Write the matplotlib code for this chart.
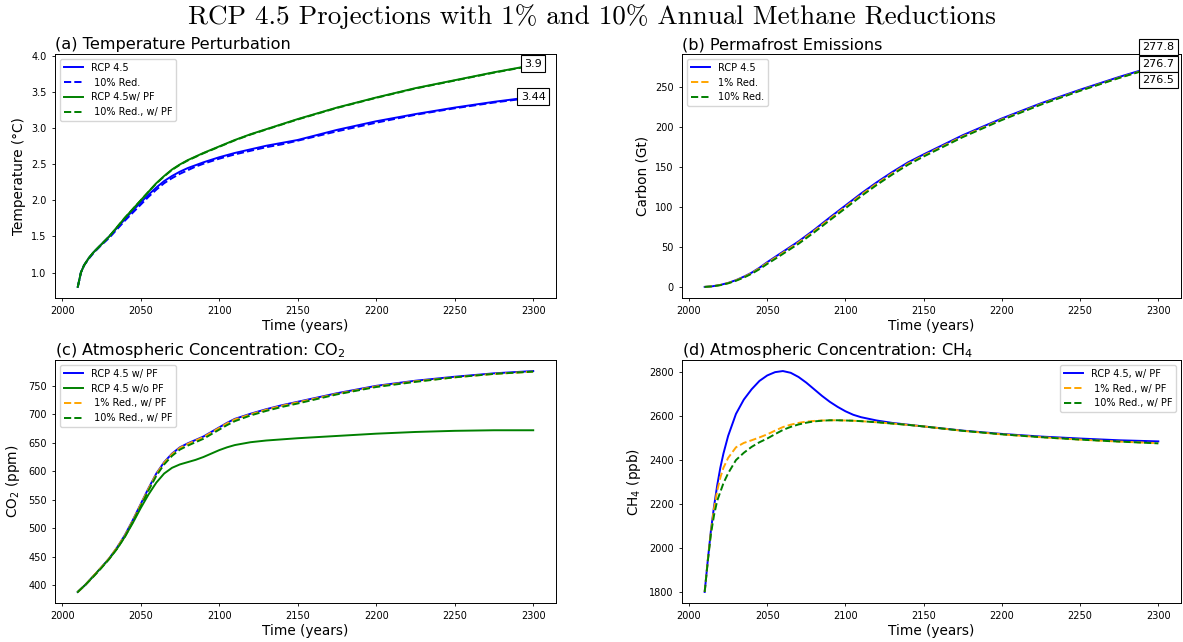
import matplotlib
matplotlib.use("Agg")
import matplotlib.pyplot as plt

# ---------------- data ----------------
# (a) Temperature perturbation
years_a = [2010, 2012, 2014, 2017, 2020, 2025, 2030, 2035, 2040, 2045, 2050, 2055, 2060,
           2065, 2070, 2075, 2080, 2085, 2090, 2100, 2110, 2120, 2130, 2140, 2150, 2175,
           2200, 2225, 2250, 2275, 2300]
temp_rcp = [0.80, 1.00, 1.10, 1.20, 1.28, 1.39, 1.50, 1.62, 1.74, 1.86, 1.97, 2.08, 2.18,
            2.27, 2.34, 2.40, 2.45, 2.49, 2.53, 2.60, 2.66, 2.71, 2.76, 2.80, 2.84, 2.98,
            3.10, 3.20, 3.29, 3.37, 3.44]
temp_rcp_10 = [0.80, 1.00, 1.10, 1.19, 1.27, 1.38, 1.48, 1.60, 1.72, 1.83, 1.94, 2.05, 2.15,
               2.24, 2.31, 2.37, 2.42, 2.47, 2.51, 2.58, 2.64, 2.69, 2.74, 2.78, 2.83, 2.96,
               3.08, 3.19, 3.28, 3.36, 3.43]
temp_pf = [0.80, 1.00, 1.10, 1.20, 1.28, 1.39, 1.50, 1.63, 1.76, 1.88, 2.00, 2.12, 2.24,
           2.34, 2.43, 2.50, 2.56, 2.61, 2.66, 2.75, 2.84, 2.92, 2.99, 3.06, 3.13, 3.29,
           3.43, 3.56, 3.67, 3.78, 3.88]
temp_pf_10 = [0.80, 1.00, 1.10, 1.20, 1.28, 1.39, 1.50, 1.63, 1.76, 1.88, 2.00, 2.12, 2.235,
              2.335, 2.425, 2.495, 2.555, 2.605, 2.655, 2.745, 2.835, 2.915, 2.985, 3.055,
              3.125, 3.285, 3.425, 3.555, 3.665, 3.775, 3.875]
temp_labels = ["3.9", "3.44"]
temp_label_vals = [3.90, 3.44]

# (b) Permafrost emissions
years_b = [2010, 2015, 2020, 2025, 2030, 2035, 2040, 2045, 2050, 2055, 2060, 2065, 2070,
           2080, 2090, 2100, 2110, 2120, 2130, 2140, 2150, 2175, 2200, 2225, 2250, 2275, 2300]
carb_rcp = [0, 0.8, 2.5, 5, 8.5, 12.8, 17.8, 24, 31, 37.5, 44, 50.5, 57, 71.5, 87, 102,
            117, 131, 144, 156, 166, 190, 211, 230, 247, 263, 277.8]
carb_1 = [0, 0.8, 2.4, 4.8, 8.2, 12.3, 17.2, 23.2, 30, 36.3, 42.7, 49.2, 55.6, 70, 85.3, 100.3,
          115.3, 129.3, 142.3, 154.4, 164.5, 188.6, 209.8, 228.9, 246, 262, 276.7]
carb_10 = [0, 0.7, 2.2, 4.5, 7.7, 11.7, 16.4, 22.2, 28.8, 35, 41.3, 47.7, 54, 68.3, 83.5, 98.5,
           113.6, 127.7, 140.8, 153, 163.3, 187.6, 209, 228.3, 245.6, 261.7, 276.5]
carb_labels = ["277.8", "276.7", "276.5"]
carb_label_vals = [277.8, 276.7, 276.5]

# (c) CO2 concentration
years_c = [2010, 2015, 2020, 2025, 2030, 2035, 2040, 2045, 2050, 2055, 2060, 2065, 2070,
           2075, 2080, 2085, 2090, 2095, 2100, 2105, 2110, 2120, 2130, 2140, 2150, 2175,
           2200, 2225, 2250, 2275, 2300]
co2_pf = [388, 401, 416, 431, 447, 466, 488, 514, 542, 570, 596, 616, 631, 642, 649, 655,
          661, 669, 677, 685, 692, 701, 709, 716, 722, 737, 750, 759, 766, 772, 776]
co2_nopf = [388, 401, 416, 431, 446, 464, 485, 509, 535, 559, 580, 596, 606, 612, 616, 620,
            625, 631, 637, 642, 646, 651, 654, 656, 658, 662, 666, 669, 671, 672, 672]
co2_1 = [388, 401, 416, 431, 447, 466, 487, 513, 541, 569, 595, 615, 630, 641, 648, 654,
         660, 668, 676, 684, 691, 700, 708, 715, 721, 736, 749, 758, 765, 771, 775]
co2_10 = [388, 401, 415, 430, 446, 464, 485, 511, 538, 566, 592, 612, 627, 638, 645, 651,
          657, 665, 673, 681, 688, 698, 706, 713, 719, 735, 748, 757, 765, 771, 775]

# (d) CH4 concentration
years_d = [2010, 2012, 2014, 2016, 2018, 2020, 2022, 2025, 2030, 2035, 2040, 2045, 2050,
           2055, 2060, 2065, 2070, 2075, 2080, 2085, 2090, 2095, 2100, 2105, 2110, 2120,
           2130, 2140, 2150, 2175, 2200, 2225, 2250, 2275, 2300]
ch4_pf = [1800, 1945, 2080, 2190, 2285, 2365, 2430, 2510, 2610, 2675, 2722, 2760, 2785,
          2800, 2805, 2797, 2778, 2752, 2722, 2692, 2665, 2642, 2622, 2606, 2595, 2580,
          2569, 2561, 2553, 2534, 2519, 2507, 2498, 2490, 2485]
ch4_1 = [1800, 1945, 2075, 2180, 2260, 2320, 2365, 2410, 2458, 2478, 2490, 2503, 2517,
         2534, 2550, 2561, 2569, 2575, 2578, 2580, 2581, 2581, 2580, 2579, 2577, 2572,
         2566, 2560, 2553, 2533, 2517, 2504, 2493, 2484, 2477]
ch4_10 = [1800, 1940, 2065, 2150, 2215, 2255, 2295, 2340, 2400, 2433, 2460, 2481, 2498,
          2518, 2537, 2551, 2562, 2570, 2576, 2579, 2581, 2581, 2580, 2579, 2577, 2572,
          2566, 2560, 2553, 2533, 2517, 2504, 2493, 2484, 2476]

# ---------------- style ----------------
plt.rcParams.update({
    "font.family": "DejaVu Sans",
    "xtick.labelsize": 7,
    "ytick.labelsize": 7,
    "xtick.major.size": 2.5,
    "ytick.major.size": 2.5,
    "xtick.major.width": 0.6,
    "ytick.major.width": 0.6,
    "axes.linewidth": 0.7,
    "legend.fontsize": 7,
})

BLUE, GREEN, ORANGE = "blue", "green", "orange"
LW = 1.4
TITLE_FS = 11.6
LABEL_FS = 9.8

fig = plt.figure(figsize=(11.83, 6.42), dpi=100)
W, H = 1183, 642


def place(l, t, r, b):
    return fig.add_axes([l / W, 1 - b / H, (r - l) / W, (b - t) / H])


ax_a = place(55, 54, 556, 298)
ax_b = place(682, 54, 1181, 298)
ax_c = place(55, 360, 556, 603)
ax_d = place(682, 360, 1181, 603)

box = dict(boxstyle="square,pad=0.3", fc="white", ec="black", lw=0.8)

# (a)
ax_a.plot(years_a, temp_rcp, color=BLUE, lw=LW, label="RCP 4.5")
ax_a.plot(years_a, temp_rcp_10, color=BLUE, lw=LW, ls="--", label=" 10% Red.")
ax_a.plot(years_a, temp_pf, color=GREEN, lw=LW, label="RCP 4.5w/ PF")
ax_a.plot(years_a, temp_pf_10, color=GREEN, lw=LW, ls="--", label=" 10% Red., w/ PF")
for txt, v in zip(temp_labels, temp_label_vals):
    ax_a.text(years_a[-1], v, txt, ha="center", va="center", fontsize=8, bbox=box)
ax_a.set_title("(a) Temperature Perturbation", loc="left", fontsize=TITLE_FS, pad=3.5)
ax_a.set_ylabel("Temperature (°C)", fontsize=LABEL_FS)
ax_a.legend(loc="upper left")

# (b)
ax_b.plot(years_b, carb_rcp, color=BLUE, lw=LW, label="RCP 4.5")
ax_b.plot(years_b, carb_1, color=ORANGE, lw=LW, ls="--", label="1% Red.")
ax_b.plot(years_b, carb_10, color=GREEN, lw=LW, ls="--", label="10% Red.")
for txt, v, off in zip(carb_labels, carb_label_vals, [18, 2, -14]):
    ax_b.annotate(txt, xy=(years_b[-1], v), xytext=(0, off), textcoords="offset pixels",
                  ha="center", va="center", fontsize=8, bbox=box, annotation_clip=False)
ax_b.set_title("(b) Permafrost Emissions", loc="left", fontsize=TITLE_FS, pad=3.5)
ax_b.set_ylabel("Carbon (Gt)", fontsize=LABEL_FS)
ax_b.legend(loc="upper left")

# (c)
ax_c.plot(years_c, co2_pf, color=BLUE, lw=LW, label="RCP 4.5 w/ PF")
ax_c.plot(years_c, co2_nopf, color=GREEN, lw=LW, label="RCP 4.5 w/o PF")
ax_c.plot(years_c, co2_1, color=ORANGE, lw=LW, ls="--", label=" 1% Red., w/ PF")
ax_c.plot(years_c, co2_10, color=GREEN, lw=LW, ls="--", label=" 10% Red., w/ PF")
ax_c.set_title("(c) Atmospheric Concentration: CO$_2$", loc="left", fontsize=TITLE_FS, pad=3.5)
ax_c.set_ylabel("CO$_2$ (ppm)", fontsize=LABEL_FS)
ax_c.legend(loc="upper left")

# (d)
ax_d.plot(years_d, ch4_pf, color=BLUE, lw=LW, label="RCP 4.5, w/ PF")
ax_d.plot(years_d, ch4_1, color=ORANGE, lw=LW, ls="--", label=" 1% Red., w/ PF")
ax_d.plot(years_d, ch4_10, color=GREEN, lw=LW, ls="--", label=" 10% Red., w/ PF")
ax_d.set_title("(d) Atmospheric Concentration: CH$_4$", loc="left", fontsize=TITLE_FS, pad=3.5)
ax_d.set_ylabel("CH$_4$ (ppb)", fontsize=LABEL_FS)
ax_d.legend(loc="upper right")

for ax in (ax_a, ax_b, ax_c, ax_d):
    ax.set_xlabel("Time (years)", fontsize=LABEL_FS, labelpad=2)

fig.suptitle("RCP 4.5 Projections with 1% and 10% Annual Methane Reductions",
             fontsize=19.5, fontfamily="cmr10", y=1 - 17 / H, va="center")

fig.savefig("out.png", dpi=100)
